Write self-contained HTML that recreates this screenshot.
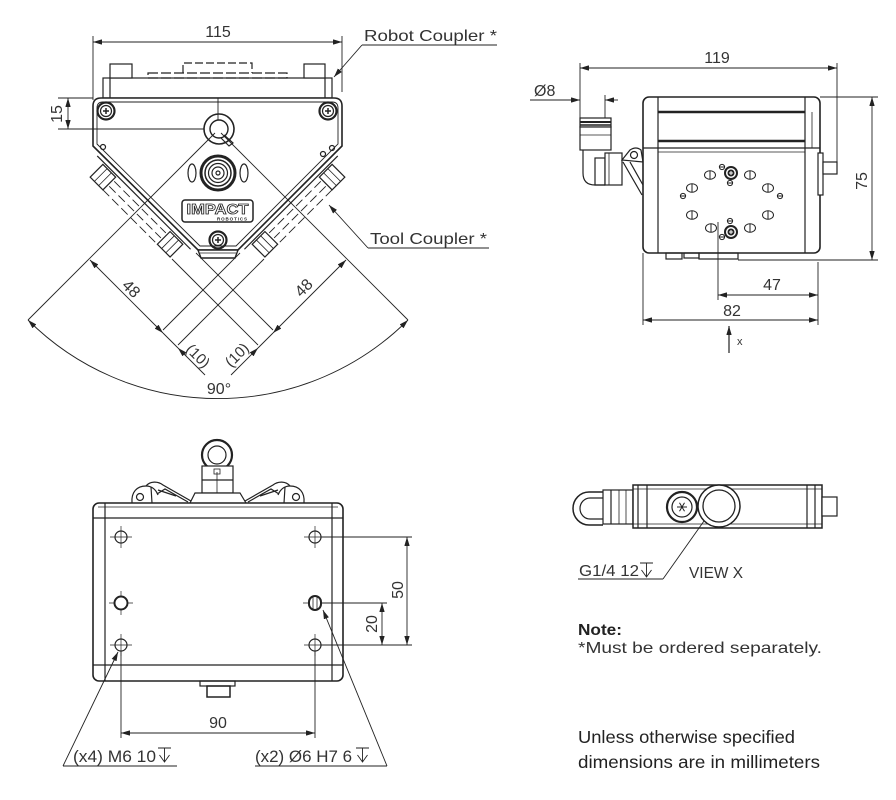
<!DOCTYPE html>
<html><head><meta charset="utf-8"><style>
html,body{margin:0;padding:0;background:#fff;}
svg{display:block;}
text{font-family:"Liberation Sans",sans-serif;fill:#333;}
</style></head><body>
<svg width="896" height="800" viewBox="0 0 896 800" xmlns="http://www.w3.org/2000/svg">
<defs>
<marker id="ar" viewBox="0 0 10 6" refX="10" refY="3" markerWidth="9" markerHeight="5.4" orient="auto-start-reverse" markerUnits="userSpaceOnUse"><path d="M0,0L10,3L0,6z" fill="#222"/></marker>
</defs>
<rect width="896" height="800" fill="#fff"/>

<!-- ============ VIEW 1 (top-left) ============ -->
<g fill="none" stroke="#222" stroke-width="1.2">
  <!-- robot coupler plate -->
  <rect x="103" y="78" width="229" height="20" fill="#fff"/>
  <line x1="110" y1="78" x2="110" y2="98"/><line x1="325" y1="78" x2="325" y2="98"/>
  <rect x="110" y="64" width="22" height="14" fill="#fff"/>
  <rect x="304" y="64" width="21" height="14" fill="#fff"/>
  <rect x="148" y="73" width="139" height="5" stroke-dasharray="10,3"/>
  <path d="M183,73 L183,63 L252,63 L252,73" stroke-dasharray="8,3"/>

  <!-- body -->
  <path d="M93,106 Q93,98 101,98 L334,98 Q342,98 342,106 L342,146 L238,250 L198,250 L93,146 Z" fill="#fff" stroke-width="1.6"/>
  <path d="M97,108 Q97,102 103,102 L332,102 Q338,102 338,108 L338,144 L236,246 L200,246 L97,144 Z" stroke-width="0.9"/>
  <path d="M198,250 L238,250 L235,258 L201,258 Z" fill="#fff" stroke-width="1.4"/>
  <line x1="200" y1="253" x2="236" y2="253" stroke-width="0.8"/>

  <!-- left tool coupler -->
  <g transform="translate(93,146) rotate(45)">
    <line x1="10" y1="4" x2="142" y2="4"/>
    <rect x="20" y="6" width="18" height="18" fill="#fff"/>
    <line x1="26" y1="6" x2="26" y2="24" stroke-width="0.8"/><line x1="32" y1="6" x2="32" y2="24" stroke-width="0.8"/>
    <rect x="115" y="6" width="18" height="18" fill="#fff"/>
    <line x1="121" y1="6" x2="121" y2="24" stroke-width="0.8"/><line x1="127" y1="6" x2="127" y2="24" stroke-width="0.8"/>
    <g stroke-dasharray="9,4" stroke-width="0.9">
      <line x1="40" y1="10" x2="113" y2="10"/><line x1="40" y1="17" x2="113" y2="17"/><line x1="38" y1="24" x2="115" y2="24"/>
    </g>
  </g>
  <!-- right tool coupler (mirror) -->
  <g transform="matrix(-1,0,0,1,435,0)">
  <g transform="translate(93,146) rotate(45)">
    <line x1="10" y1="4" x2="142" y2="4"/>
    <rect x="20" y="6" width="18" height="18" fill="#fff"/>
    <line x1="26" y1="6" x2="26" y2="24" stroke-width="0.8"/><line x1="32" y1="6" x2="32" y2="24" stroke-width="0.8"/>
    <rect x="115" y="6" width="18" height="18" fill="#fff"/>
    <line x1="121" y1="6" x2="121" y2="24" stroke-width="0.8"/><line x1="127" y1="6" x2="127" y2="24" stroke-width="0.8"/>
    <g stroke-dasharray="9,4" stroke-width="0.9">
      <line x1="40" y1="10" x2="113" y2="10"/><line x1="40" y1="17" x2="113" y2="17"/><line x1="38" y1="24" x2="115" y2="24"/>
    </g>
  </g>
  </g>

  <!-- screws -->
  <g transform="translate(106,111)"><circle r="8.5" stroke-width="2.2"/><circle r="5.5"/><path d="M-3,0h6M0,-3v6" stroke-width="1.5"/></g>
  <g transform="translate(328,111)"><circle r="8.5" stroke-width="2.2"/><circle r="5.5"/><path d="M-3,0h6M0,-3v6" stroke-width="1.5"/></g>
  <g transform="translate(218,240)"><circle r="8.5" stroke-width="2.2"/><circle r="5.5"/><path d="M-3,0h6M0,-3v6" stroke-width="1.5"/></g>
  <!-- small holes -->
  <circle cx="103" cy="147" r="2.5"/><circle cx="332" cy="148" r="2.5"/><circle cx="323" cy="154" r="2.5"/>
  <!-- ring -->
  <circle cx="219" cy="129" r="15" stroke-width="1.6"/>
  <circle cx="219" cy="129" r="9" stroke-width="1.4"/>
  <path d="M224,135 L233,143 L229,146 L221,138"/>
  <line x1="218" y1="98" x2="218" y2="120" stroke-width="0.9"/>
  <!-- connector -->
  <circle cx="218" cy="173" r="17" stroke-width="3"/>
  <circle cx="218" cy="173" r="13" stroke-width="1.5"/>
  <circle cx="218" cy="173" r="9.5"/>
  <circle cx="218" cy="173" r="6"/>
  <circle cx="218" cy="173" r="2"/>
  <ellipse cx="192" cy="173" rx="4" ry="9"/>
  <ellipse cx="244" cy="173" rx="4" ry="9"/>
  <!-- logo -->
  <rect x="182" y="200" width="71" height="22" rx="3" stroke-width="1.5"/>

  <!-- construction lines -->
  <g stroke-width="0.9">
    <line x1="215" y1="133" x2="28" y2="320"/>
    <line x1="221" y1="133" x2="408" y2="320"/>
    <line x1="163" y1="330" x2="240" y2="253"/>
    <line x1="178" y1="345" x2="264" y2="259"/>
    <line x1="273" y1="330" x2="196" y2="253"/>
    <line x1="258" y1="345" x2="172" y2="259"/>
  </g>

  <!-- dims -->
  <g stroke-width="0.9">
    <line x1="93" y1="42" x2="342" y2="42" marker-start="url(#ar)" marker-end="url(#ar)"/>
    <line x1="93" y1="36" x2="93" y2="100"/>
    <line x1="342" y1="36" x2="342" y2="92"/>
    <!-- robot leader -->
    <line x1="362" y1="45" x2="497" y2="45"/>
    <line x1="362" y1="45" x2="334" y2="77" marker-end="url(#ar)"/>
    <!-- tool leader -->
    <line x1="368" y1="248" x2="489" y2="248"/>
    <line x1="368" y1="248" x2="329" y2="205" marker-end="url(#ar)"/>
    <!-- 15 -->
    <line x1="68" y1="98" x2="68" y2="129" marker-start="url(#ar)" marker-end="url(#ar)"/>
    <line x1="58" y1="98" x2="93" y2="98"/>
    <line x1="58" y1="129" x2="204" y2="129"/>
    <!-- 48 left + (10) -->
    <line x1="90" y1="260" x2="163" y2="333" marker-start="url(#ar)" marker-end="url(#ar)"/>
    <line x1="178" y1="348" x2="205" y2="375" marker-start="url(#ar)"/>
    <line x1="163" y1="333" x2="178" y2="348"/>
    <!-- 48 right + (10) -->
    <line x1="346" y1="260" x2="273" y2="333" marker-start="url(#ar)" marker-end="url(#ar)"/>
    <line x1="258" y1="348" x2="231" y2="375" marker-start="url(#ar)"/>
    <line x1="273" y1="333" x2="258" y2="348"/>
    <!-- 90 arc -->
    <path d="M28,320 A269,269 0 0 0 408,320" marker-start="url(#ar)" marker-end="url(#ar)"/>
  </g>
</g>
<g>
  <text x="218" y="37" font-size="16" text-anchor="middle">115</text>
  <text x="364" y="41" font-size="16" textLength="133" lengthAdjust="spacingAndGlyphs">Robot Coupler *</text>
  <text x="370" y="244" font-size="16" textLength="117" lengthAdjust="spacingAndGlyphs">Tool Coupler *</text>
  <text transform="translate(62,114) rotate(-90)" font-size="16" text-anchor="middle">15</text>
  <text transform="translate(131,289) rotate(45)" y="5" font-size="16" text-anchor="middle">48</text>
  <text transform="translate(304,288) rotate(-45)" y="5" font-size="16" text-anchor="middle">48</text>
  <text transform="translate(198,356) rotate(45)" y="5" font-size="15" text-anchor="middle">(10)</text>
  <text transform="translate(237,355) rotate(-45)" y="5" font-size="15" text-anchor="middle">(10)</text>
  <text x="219" y="394" font-size="16" text-anchor="middle">90°</text>
  <text x="217.5" y="214" font-size="15" font-weight="bold" text-anchor="middle" textLength="62" lengthAdjust="spacingAndGlyphs" style="fill:#fff;stroke:#222;stroke-width:0.8">IMPACT</text>
  <text x="232" y="220.5" font-size="4.5" font-weight="bold" text-anchor="middle" textLength="30" style="fill:#222">ROBOTICS</text>
</g>

<!-- ============ VIEW 2 (top-right) ============ -->
<g fill="none" stroke="#222" stroke-width="1.2">
  <!-- fitting -->
  <rect x="580" y="118" width="31" height="9" fill="#fff"/>
  <line x1="580" y1="122" x2="611" y2="122" stroke-width="2"/>
  <line x1="580" y1="125" x2="611" y2="125" stroke-width="1.5"/>
  <rect x="580" y="127" width="31" height="23" fill="#fff"/>
  <line x1="580" y1="135" x2="611" y2="135" stroke-width="0.8"/>
  <path d="M583,150 L583,173 Q583,185 595,185 L605,185" />
  <rect x="595" y="158" width="10" height="27"/>
  <rect x="605" y="153" width="17" height="32" fill="#fff"/>
  <line x1="609" y1="153" x2="609" y2="185" stroke-width="0.8"/>
  <path d="M622,160 L630,150 Q636,146 641,150 L643,162 Z" fill="#fff"/>
  <circle cx="634" cy="155" r="3.5"/>
  <path d="M623,162 L642,195 M630,162 L643,185"/>

  <!-- body -->
  <rect x="643" y="97" width="177" height="156" rx="6" fill="#fff" stroke-width="1.6"/>
  <line x1="658" y1="97" x2="658" y2="253"/>
  <line x1="805" y1="97" x2="805" y2="253"/>
  <line x1="658" y1="112" x2="805" y2="112" stroke-width="2.6"/>
  <line x1="658" y1="141" x2="805" y2="141" stroke-width="2.4"/>
  <line x1="643" y1="148" x2="820" y2="148"/>
  <line x1="658" y1="152" x2="805" y2="152" stroke-width="0.8"/>
  <line x1="812" y1="112" x2="812" y2="148" stroke-width="0.8"/>
  <!-- right connector -->
  <rect x="818" y="153" width="5" height="42" fill="#fff"/>
  <rect x="823" y="162" width="14" height="12" fill="#fff"/>
  <!-- bottom tabs -->
  <rect x="666" y="253" width="16" height="6"/>
  <rect x="684" y="253" width="15" height="5"/>
  <rect x="699" y="253" width="39" height="6"/>

  <!-- holes -->
  <g stroke-width="1">
    <g transform="translate(710,175)"><ellipse rx="5.5" ry="4.3"/><line x1="0" y1="-4.3" x2="0" y2="4.3"/></g>
    <g transform="translate(750,175)"><ellipse rx="5.5" ry="4.3"/><line x1="0" y1="-4.3" x2="0" y2="4.3"/></g>
    <g transform="translate(692,188)"><ellipse rx="5.5" ry="4.3"/><line x1="0" y1="-4.3" x2="0" y2="4.3"/></g>
    <g transform="translate(768,188)"><ellipse rx="5.5" ry="4.3"/><line x1="0" y1="-4.3" x2="0" y2="4.3"/></g>
    <g transform="translate(692,215)"><ellipse rx="5.5" ry="4.3"/><line x1="0" y1="-4.3" x2="0" y2="4.3"/></g>
    <g transform="translate(768,215)"><ellipse rx="5.5" ry="4.3"/><line x1="0" y1="-4.3" x2="0" y2="4.3"/></g>
    <g transform="translate(711,228)"><ellipse rx="5.5" ry="4.3"/><line x1="0" y1="-4.3" x2="0" y2="4.3"/></g>
    <g transform="translate(750,228)"><ellipse rx="5.5" ry="4.3"/><line x1="0" y1="-4.3" x2="0" y2="4.3"/></g>
    <g transform="translate(683,196)"><circle r="2.6"/><line x1="-2.6" y1="0" x2="2.6" y2="0"/></g>
    <g transform="translate(780,196)"><circle r="2.6"/><line x1="-2.6" y1="0" x2="2.6" y2="0"/></g>
    <g transform="translate(722,167)"><circle r="2.6"/><line x1="-2.6" y1="0" x2="2.6" y2="0"/></g>
    <g transform="translate(730,183)"><circle r="2.6"/><line x1="-2.6" y1="0" x2="2.6" y2="0"/></g>
    <g transform="translate(730,221)"><circle r="2.6"/><line x1="-2.6" y1="0" x2="2.6" y2="0"/></g>
    <g transform="translate(722,237)"><circle r="2.6"/><line x1="-2.6" y1="0" x2="2.6" y2="0"/></g>
    <g transform="translate(731,173)"><circle r="6" stroke-width="2"/><circle r="3" fill="#222"/><path d="M-2,0h4M0,-2v4" stroke="#fff"/></g>
    <g transform="translate(731,232)"><circle r="6" stroke-width="2"/><circle r="3" fill="#222"/><path d="M-2,0h4M0,-2v4" stroke="#fff"/></g>
  </g>

  <!-- dims -->
  <g stroke-width="0.9">
    <line x1="580" y1="68" x2="837" y2="68" marker-start="url(#ar)" marker-end="url(#ar)"/>
    <line x1="580" y1="63" x2="580" y2="118"/>
    <line x1="837" y1="63" x2="837" y2="162"/>
    <line x1="530" y1="100" x2="580" y2="100" marker-end="url(#ar)"/>
    <line x1="618" y1="100" x2="605" y2="100" marker-end="url(#ar)"/>
    <line x1="605" y1="95" x2="605" y2="118"/>
    <line x1="820" y1="97" x2="878" y2="97"/>
    <line x1="738" y1="260" x2="878" y2="260"/>
    <line x1="872" y1="97" x2="872" y2="260" marker-start="url(#ar)" marker-end="url(#ar)"/>
    <line x1="718" y1="222" x2="718" y2="300"/>
    <line x1="818" y1="262" x2="818" y2="325"/>
    <line x1="643" y1="253" x2="643" y2="325"/>
    <line x1="718" y1="295" x2="818" y2="295" marker-start="url(#ar)" marker-end="url(#ar)"/>
    <line x1="643" y1="320" x2="818" y2="320" marker-start="url(#ar)" marker-end="url(#ar)"/>
    <line x1="729" y1="353" x2="729" y2="326" stroke-width="1.2" marker-end="url(#ar)"/>
  </g>
</g>
<g>
  <text x="717" y="63" font-size="16" text-anchor="middle">119</text>
  <text x="534" y="96" font-size="16">Ø8</text>
  <text transform="translate(867,181) rotate(-90)" font-size="16" text-anchor="middle">75</text>
  <text x="772" y="290" font-size="16" text-anchor="middle">47</text>
  <text x="732" y="316" font-size="16" text-anchor="middle">82</text>
  <text x="737" y="345" font-size="11">x</text>
</g>

<!-- ============ VIEW 3 (bottom-left) ============ -->
<g fill="none" stroke="#222" stroke-width="1.2">
  <!-- top fitting -->
  <circle cx="217" cy="455" r="15" stroke-width="2.2" fill="#fff"/>
  <circle cx="217" cy="455" r="9" stroke-width="1.2"/>
  <rect x="202" y="466" width="31" height="27" fill="#fff"/>
  <line x1="202" y1="480" x2="233" y2="480"/>
  <line x1="217" y1="472" x2="217" y2="493" stroke-width="0.8"/>
  <rect x="214" y="469" width="6" height="5" stroke-width="0.8"/>
  <path d="M190,503 L195,493 L240,493 L246,503" fill="#fff"/>
  <!-- clips -->
  <g>
    <path d="M132,503 C131,492 137,486 146,486 C152,486 156,490 158,495"/>
    <path d="M146,486 C150,481 158,481 163,485 L191,501"/>
    <path d="M157,494 L165,489 L188,502"/>
    <path d="M158,490 L176,496"/>
    <circle cx="140" cy="497" r="3.5"/>
    <line x1="151" y1="487" x2="152" y2="503"/>
  </g>
  <g transform="matrix(-1,0,0,1,436,0)">
    <path d="M132,503 C131,492 137,486 146,486 C152,486 156,490 158,495"/>
    <path d="M146,486 C150,481 158,481 163,485 L191,501"/>
    <path d="M157,494 L165,489 L188,502"/>
    <path d="M158,490 L176,496"/>
    <circle cx="140" cy="497" r="3.5"/>
    <line x1="151" y1="487" x2="152" y2="503"/>
  </g>
  <!-- body -->
  <rect x="93" y="503" width="250" height="178" rx="6" fill="#fff" stroke-width="1.6"/>
  <line x1="105" y1="503" x2="105" y2="681"/>
  <line x1="332" y1="503" x2="332" y2="681"/>
  <line x1="93" y1="518" x2="343" y2="518"/>
  <line x1="93" y1="665" x2="343" y2="665"/>
  <line x1="98" y1="507" x2="338" y2="507" stroke-width="0.7"/>
  <!-- bottom connector -->
  <rect x="200" y="681" width="35" height="5"/>
  <rect x="207" y="686" width="23" height="11" stroke-width="1.5"/>
  <!-- holes -->
  <g stroke-width="1.2">
    <g transform="translate(121,537)"><circle r="6"/><path d="M-11,0h22M0,-11v22" stroke-width="0.7"/></g>
    <g transform="translate(121,645)"><circle r="6"/><path d="M-11,0h22M0,-11v22" stroke-width="0.7"/></g>
    <g transform="translate(315,537)"><circle r="6"/><path d="M-11,0h22M0,-11v22" stroke-width="0.7"/></g>
    <g transform="translate(315,645)"><circle r="6"/><path d="M-11,0h22M0,-11v22" stroke-width="0.7"/></g>
    <g transform="translate(121,603)"><circle r="6.5" stroke-width="2"/><path d="M-12,0h5M7,0h5M0,-12v5M0,7v5" stroke-width="0.7"/></g>
    <g transform="translate(315,603)"><rect x="-6" y="-7" width="12" height="14" rx="6" stroke-width="2"/><path d="M-2,-6v12M2,-6v12M-12,0h5" stroke-width="0.8"/></g>
  </g>
  <!-- dims -->
  <g stroke-width="0.9">
    <line x1="321" y1="537" x2="412" y2="537"/>
    <line x1="321" y1="645" x2="412" y2="645"/>
    <line x1="322" y1="603" x2="387" y2="603"/>
    <line x1="407" y1="537" x2="407" y2="645" marker-start="url(#ar)" marker-end="url(#ar)"/>
    <line x1="382" y1="603" x2="382" y2="645" marker-start="url(#ar)" marker-end="url(#ar)"/>
    <line x1="121" y1="651" x2="121" y2="738"/>
    <line x1="315" y1="651" x2="315" y2="738"/>
    <line x1="121" y1="733" x2="315" y2="733" marker-start="url(#ar)" marker-end="url(#ar)"/>
    <line x1="63" y1="766" x2="177" y2="766"/>
    <line x1="63" y1="766" x2="118" y2="652" marker-end="url(#ar)"/>
    <line x1="255" y1="766" x2="387" y2="766"/>
    <line x1="387" y1="766" x2="323" y2="610" marker-end="url(#ar)"/>
    <!-- depth symbols -->
    <path d="M158,748 H171 M164.5,748 V762 M159.5,755 L164.5,762 L169.5,755"/>
    <path d="M356,748 H369 M362.5,748 V762 M357.5,755 L362.5,762 L367.5,755"/>
  </g>
</g>
<g>
  <text transform="translate(403,590) rotate(-90)" font-size="16" text-anchor="middle">50</text>
  <text transform="translate(377,624) rotate(-90)" font-size="16" text-anchor="middle">20</text>
  <text x="218" y="728" font-size="16" text-anchor="middle">90</text>
  <text x="73" y="762" font-size="16.5" textLength="83" lengthAdjust="spacingAndGlyphs">(x4) M6 10</text>
  <text x="255" y="762" font-size="16.5" textLength="97" lengthAdjust="spacingAndGlyphs">(x2) Ø6 H7 6</text>
</g>

<!-- ============ VIEW 4 (bottom-right) ============ -->
<g fill="none" stroke="#222" stroke-width="1.2">
  <!-- loop -->
  <path d="M603,492 L589,492 A16,16.5 0 0 0 589,525 L603,525" stroke-width="1.5"/>
  <path d="M603,498 L590,498 A10,10.5 0 0 0 590,519 L603,519"/>
  <!-- nut -->
  <rect x="603" y="490" width="30" height="34" fill="#fff"/>
  <line x1="611" y1="490" x2="611" y2="524"/>
  <line x1="619" y1="490" x2="619" y2="524" stroke-width="0.8"/>
  <line x1="626" y1="490" x2="626" y2="524" stroke-width="0.8"/>
  <!-- body -->
  <rect x="633" y="485" width="189" height="43" fill="#fff" stroke-width="1.5"/>
  <line x1="638" y1="485" x2="638" y2="528"/>
  <line x1="647" y1="485" x2="647" y2="528"/>
  <line x1="807" y1="485" x2="807" y2="528"/>
  <line x1="815" y1="485" x2="815" y2="528"/>
  <line x1="633" y1="489" x2="822" y2="489" stroke-width="0.7"/>
  <line x1="633" y1="524" x2="822" y2="524" stroke-width="0.7"/>
  <!-- connector -->
  <circle cx="682" cy="507" r="15" stroke-width="2.2" fill="#fff"/>
  <circle cx="682" cy="507" r="10"/>
  <path d="M677,507h10M679.5,502.7l5,8.6M684.5,502.7l-5,8.6" stroke-width="1"/>
  <path d="M678,492h8M678,522h8" stroke-width="1"/>
  <!-- big port -->
  <circle cx="719" cy="506" r="21" stroke-width="1.5" fill="#fff"/>
  <circle cx="719" cy="506" r="16" stroke-width="1.3"/>
  <!-- right stub -->
  <rect x="822" y="497" width="15" height="19" fill="#fff"/>
  <!-- leader -->
  <g stroke-width="0.9">
    <line x1="578" y1="579" x2="663" y2="579"/>
    <line x1="663" y1="579" x2="704" y2="521"/>
    <path d="M640,563 H653 M646.5,563 V577 M641.5,570 L646.5,577 L651.5,570"/>
  </g>
</g>
<g>
  <text x="579" y="576" font-size="16" textLength="60" lengthAdjust="spacingAndGlyphs">G1/4 12</text>
  <text x="689" y="578" font-size="16" textLength="54" lengthAdjust="spacingAndGlyphs">VIEW X</text>
</g>

<!-- ============ NOTES ============ -->
<g>
  <text x="578" y="635" font-size="16" font-weight="bold" textLength="44" lengthAdjust="spacingAndGlyphs" style="fill:#222">Note:</text>
  <text x="578" y="653" font-size="16" textLength="244" lengthAdjust="spacingAndGlyphs">*Must be ordered separately.</text>
  <text x="578" y="743" font-size="17.5" textLength="217" lengthAdjust="spacingAndGlyphs" style="fill:#222">Unless otherwise specified</text>
  <text x="578" y="768" font-size="17.5" textLength="242" lengthAdjust="spacingAndGlyphs" style="fill:#222">dimensions are in millimeters</text>
</g>
</svg>
</body></html>
